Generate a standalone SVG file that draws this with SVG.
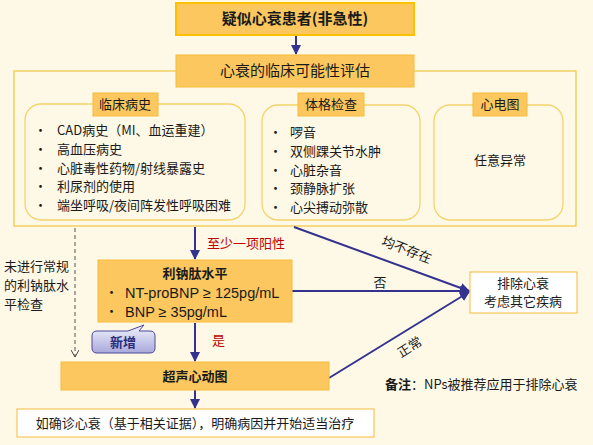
<svg xmlns="http://www.w3.org/2000/svg" width="593" height="445" viewBox="0 0 593 445">
<defs>
<style>
text{font-family:"Noto Sans CJK SC","Liberation Sans",sans-serif;fill:#1a1a1a;}
.box{fill:#FBC75E;stroke:#F6BC3A;stroke-width:1;}
.t15{font-size:15px;}
.t13{font-size:13px;}
.b{font-weight:bold;}
.mid{text-anchor:middle;}
.red{fill:#C00000;}
.rr{fill:none;stroke:#F5D36B;stroke-width:1.3;}
.ln{stroke:#33338F;stroke-width:2;fill:none;}
.lat{font-family:"Liberation Sans","Noto Sans CJK SC",sans-serif;font-size:14.5px;}
</style>
<marker id="ah" markerWidth="10" markerHeight="10" refX="9" refY="5" orient="auto" markerUnits="userSpaceOnUse">
<path d="M0,0 L10,5 L0,10 Z" fill="#33338F"/>
</marker>
<marker id="ahd" markerWidth="8" markerHeight="8" refX="7" refY="4" orient="auto" markerUnits="userSpaceOnUse">
<path d="M0,0 L7,4 L0,8" fill="none" stroke="#444" stroke-width="1"/>
</marker>
<linearGradient id="gnew" x1="0" y1="0" x2="0" y2="1">
<stop offset="0" stop-color="#F2F2FC"/>
<stop offset="1" stop-color="#A9A9DC"/>
</linearGradient>
</defs>
<rect width="593" height="445" fill="#FEF8E6"/>

<g id="outer">
<rect x="14" y="71" width="562" height="155" fill="none" stroke="#F2C94C" stroke-width="1.3"/>
</g>

<g id="connectors">
<line class="ln" x1="296" y1="36" x2="296" y2="54" marker-end="url(#ah)"/>
<line class="ln" x1="195" y1="227" x2="195" y2="259" marker-end="url(#ah)"/>
<line class="ln" x1="195" y1="323" x2="195" y2="361" marker-end="url(#ah)"/>
<line class="ln" x1="195" y1="390" x2="195" y2="408" marker-end="url(#ah)"/>
<line class="ln" x1="294" y1="227" x2="469" y2="291" marker-end="url(#ah)"/>
<line class="ln" x1="292" y1="291" x2="469" y2="291" marker-end="url(#ah)"/>
<line class="ln" x1="329" y1="378" x2="469" y2="292" marker-end="url(#ah)"/>
<line x1="75" y1="228" x2="75" y2="357" stroke="#555" stroke-width="1" stroke-dasharray="4,3" marker-end="url(#ahd)"/>
<text class="t13 red" x="207" y="248">至少一项阳性</text>
<text class="t13 red" x="212" y="345">是</text>
<text class="t13 mid" x="380" y="287">否</text>
<text class="t13 mid" transform="translate(405,254) rotate(21)">均不存在</text>
<text class="t13 mid" transform="translate(412,351) rotate(-32)">正常</text>
</g>

<g id="n-top">
<rect x="176" y="3" width="238" height="32" fill="#FBC75E" stroke="#FFC000" stroke-width="2"/>
<text class="t15 b mid" x="295" y="24">疑似心衰患者(非急性)</text>
</g>

<g id="n-assess">
<rect class="box" x="176" y="55" width="238" height="32"/>
<text class="t15 mid" x="295" y="76">心衰的临床可能性评估</text>
</g>

<g id="n-history">
<rect class="rr" x="25" y="104" width="220" height="116" rx="16"/>
<rect class="box" x="93" y="93" width="65" height="23"/>
<text class="t13 mid" x="125" y="109">临床病史</text>
<text class="t13" x="34" y="135">•</text><text class="t13" x="57" y="135">CAD病史（MI、血运重建）</text>
<text class="t13" x="34" y="154">•</text><text class="t13" x="57" y="154">高血压病史</text>
<text class="t13" x="34" y="173">•</text><text class="t13" x="57" y="173">心脏毒性药物/射线暴露史</text>
<text class="t13" x="34" y="191">•</text><text class="t13" x="57" y="191">利尿剂的使用</text>
<text class="t13" x="34" y="210">•</text><text class="t13" x="57" y="210">端坐呼吸/夜间阵发性呼吸困难</text>
</g>

<g id="n-exam">
<rect class="rr" x="262" y="105" width="158" height="115" rx="16"/>
<rect class="box" x="298" y="93" width="66" height="23"/>
<text class="t13 mid" x="331" y="109">体格检查</text>
<text class="t13" x="269" y="137">•</text><text class="t13" x="290" y="137">啰音</text>
<text class="t13" x="269" y="156">•</text><text class="t13" x="290" y="156">双侧踝关节水肿</text>
<text class="t13" x="269" y="175">•</text><text class="t13" x="290" y="175">心脏杂音</text>
<text class="t13" x="269" y="193">•</text><text class="t13" x="290" y="193">颈静脉扩张</text>
<text class="t13" x="269" y="212">•</text><text class="t13" x="290" y="212">心尖搏动弥散</text>
</g>

<g id="n-ecg">
<rect class="rr" x="434" y="105" width="129" height="115" rx="16"/>
<rect class="box" x="473" y="93" width="54" height="23"/>
<text class="t13 mid" x="500" y="109">心电图</text>
<text class="t13 mid" x="500" y="165">任意异常</text>
</g>

<g id="n-left-note">
<text class="t13" x="4" y="271">未进行常规</text>
<text class="t13" x="4" y="290">的利钠肽水</text>
<text class="t13" x="4" y="309">平检查</text>
</g>

<g id="n-bnp">
<rect class="box" x="98" y="260" width="194" height="62"/>
<text class="t13 b mid" x="195" y="278">利钠肽水平</text>
<text class="t13" x="105" y="297">•</text><text class="lat" x="125" y="298">NT-proBNP ≥ 125pg/mL</text>
<text class="t13" x="105" y="316">•</text><text class="lat" x="125" y="317">BNP ≥ 35pg/mL</text>
</g>

<g id="n-new">
<path d="M97,331 L128,331 L144,325 L139,331 L150,331 Q155,331 155,336 L155,348 Q155,353 150,353 L97,353 Q92,353 92,348 L92,336 Q92,331 97,331 Z" fill="url(#gnew)" stroke="#4A4A9A" stroke-width="1"/>
<text class="t13 b mid" x="123" y="347" style="fill:#2B2B78">新增</text>
</g>

<g id="n-echo">
<rect class="box" x="61" y="362" width="268" height="28"/>
<text class="t13 b mid" x="195" y="381">超声心动图</text>
</g>

<g id="n-final">
<rect x="17" y="409" width="357" height="28" fill="#FFFFFF" stroke="#F6BC3A" stroke-width="1"/>
<text class="t13 mid" x="195" y="428">如确诊心衰（基于相关证据），明确病因并开始适当治疗</text>
</g>

<g id="n-exclude">
<rect x="470" y="272" width="107" height="41" fill="#FFFFFF" stroke="#F6BC3A" stroke-width="1"/>
<text class="t13 mid" x="523" y="288">排除心衰</text>
<text class="t13 mid" x="523" y="306">考虑其它疾病</text>
</g>

<g id="n-remark">
<text class="t13" x="385" y="389"><tspan class="b">备注</tspan>：NPs被推荐应用于排除心衰</text>
</g>
</svg>
